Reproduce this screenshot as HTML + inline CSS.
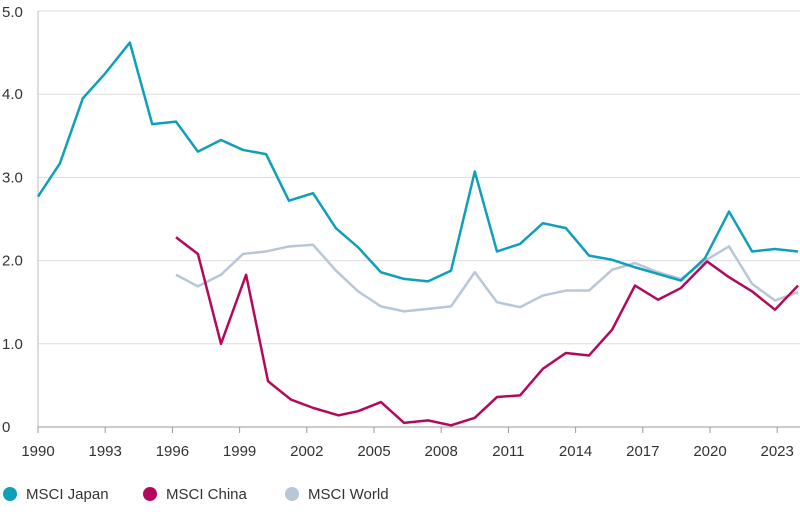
<!DOCTYPE html>
<html><head><meta charset="utf-8"><style>
body{margin:0;background:#fff;font-family:"Liberation Sans",sans-serif;}
svg text{font-family:"Liberation Sans",sans-serif;fill:#333;font-size:15px;}
</style></head><body>
<svg id="chart" width="800" height="515"></svg>
<script>
const jpYears=[1990,1990.98,1992.0,1993.0,1994.1,1995.1,1996.16,1997.14,1998.17,1999.15,2000.18,2001.2,2002.28,2003.3,2004.29,2005.31,2006.34,2007.41,2008.44,2009.5,2010.49,2011.52,2012.54,2013.57,2014.6,2015.63,2016.65,2017.68,2018.7,2019.78,2020.85,2021.88,2022.9,2023.93];
const jpValues=[2.77,3.17,3.95,4.25,4.62,3.64,3.67,3.31,3.45,3.33,3.28,2.72,2.81,2.39,2.16,1.86,1.78,1.75,1.88,3.07,2.11,2.20,2.45,2.39,2.06,2.01,1.92,1.84,1.76,2.03,2.59,2.11,2.14,2.11];
const cnYears=[1996.16,1997.14,1998.17,1999.29,2000.27,2001.29,2002.28,2003.41,2004.29,2005.31,2006.34,2007.41,2008.44,2009.5,2010.49,2011.52,2012.54,2013.57,2014.6,2015.63,2016.65,2017.68,2018.7,2019.87,2020.85,2021.88,2022.9,2023.93];
const cnValues=[2.28,2.08,1.00,1.83,0.55,0.33,0.23,0.14,0.19,0.30,0.05,0.08,0.02,0.11,0.36,0.38,0.70,0.89,0.86,1.17,1.70,1.53,1.67,1.99,1.80,1.63,1.41,1.70];
const wdYears=[1996.16,1997.14,1998.17,1999.15,2000.18,2001.2,2002.28,2003.3,2004.29,2005.31,2006.34,2007.41,2008.44,2009.5,2010.49,2011.52,2012.54,2013.57,2014.6,2015.63,2016.65,2017.68,2018.7,2019.78,2020.85,2021.88,2022.9,2023.93];
const wdValues=[1.83,1.69,1.83,2.08,2.11,2.17,2.19,1.88,1.63,1.45,1.39,1.42,1.45,1.86,1.50,1.44,1.58,1.64,1.64,1.89,1.97,1.86,1.78,2.00,2.17,1.72,1.52,1.62];
const xTicks=[1990,1993,1996,1999,2002,2005,2008,2011,2014,2017,2020,2023];
const yTicks=[0,1,2,3,4,5];
const yTickLabels=["0","1.0","2.0","3.0","4.0","5.0"];
const svg=document.getElementById('chart');
const NS='http://www.w3.org/2000/svg';
const X=y=>38+(y-1990)*22.4;
const Y=v=>427-v*83.2;
function mk(t,a){const e=document.createElementNS(NS,t);for(const k in a)e.setAttribute(k,a[k]);svg.appendChild(e);return e;}
yTicks.forEach((t,i)=>{
 const g=mk('line',{x1:38,x2:800,y1:Y(t),y2:Y(t),stroke:t===0?'#999':'#ddd','stroke-width':1});
 
 
 const l=mk('text',{x:2,y:Y(t)+(t===5?6:5)});l.textContent=yTickLabels[i];
 
 
});
mk('line',{x1:38,x2:38,y1:Y(5),y2:427,stroke:'#bbb'});
xTicks.forEach(t=>{
 const tk=mk('line',{x1:X(t),x2:X(t),y1:427,y2:433,stroke:'#999'});
 
 
 const l=mk('text',{x:X(t),y:456,'text-anchor':'middle'});l.textContent=t;
 
 
});
function series(xs,vs,c,name){
 const p=mk('polyline',{points:xs.map((x,i)=>X(x)+','+Y(vs[i])).join(' '),fill:'none',stroke:c,'stroke-width':2.5,'stroke-linejoin':'round'});
 
 
}
series(wdYears,wdValues,'#b7c7d7','msci-world-line');
series(cnYears,cnValues,'#b4095b','msci-china-line');
series(jpYears,jpValues,'#0f9fb8','msci-japan-line');
[['MSCI Japan','#0f9fb8',8],['MSCI China','#b4095b',148],['MSCI World','#b7c7d7',290]].forEach(([n,c,x])=>{
 const d=mk('circle',{cx:x+2,cy:494,r:7,fill:c});
 
 
 const t=mk('text',{x:x+18,y:499});t.textContent=n;
 
 
});
</script>
</body></html>
